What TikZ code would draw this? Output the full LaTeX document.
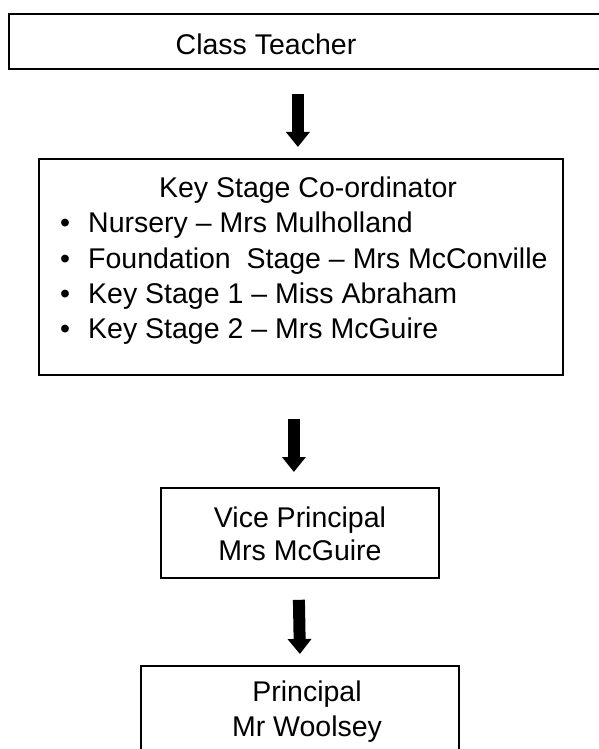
\documentclass[tikz,border=0pt]{standalone}
\usepackage{fontspec}
\setmainfont{Liberation Sans}
\usetikzlibrary{arrows.meta}
\begin{document}
\begin{tikzpicture}[x=1pt,y=-1pt,
  box/.style={draw, line width=1.8pt, rectangle, inner sep=0pt, align=center,
    font=\fontsize{28.5}{33}\selectfont},
  lbl/.style={font=\fontsize{28.5}{33}\selectfont, align=center, inner sep=0pt},
  listtxt/.style={font=\fontsize{28.5}{33}\selectfont, inner sep=0pt, anchor=base west},
  flow/.style={line width=12pt, -{Triangle[width=23pt,length=15pt]}}]
\useasboundingbox (0,0) rectangle (599,749);
\clip (0,0) rectangle (599,749);
% boxes
\node[box, line width=2pt, minimum width=640pt, minimum height=55pt, anchor=north west] (ctbox) at (8,13) {};
\node[lbl, anchor=base] (cttext) at (266,55) {Class Teacher};
\node[box, minimum width=524pt, minimum height=216pt, anchor=north west] (kbox) at (38,158) {};
\node[lbl, anchor=base] (ktitle) at (308,197) {Key Stage Co-ordinator};
\node[listtxt] (l1) at (60,232) {\makebox[28pt][l]{•}Nursery – Mrs Mulholland};
\node[listtxt] (l2) at (60,268) {\makebox[28pt][l]{•}Foundation\ \ Stage – Mrs McConville};
\node[listtxt] (l3) at (60,303) {\makebox[28pt][l]{•}Key Stage 1 – Miss Abraham};
\node[listtxt] (l4) at (60,338) {\makebox[28pt][l]{•}Key Stage 2 – Mrs McGuire};
\node[box, minimum width=278pt, minimum height=90pt, anchor=north west] (vbox) at (160,487) {};
\node[lbl, anchor=base] (v1) at (300,527) {Vice Principal};
\node[lbl, anchor=base] (v2) at (300,560) {Mrs McGuire};
\node[box, minimum width=318pt, minimum height=120pt, anchor=north west] (pbox) at (140,665) {};
\node[lbl, anchor=base] (p1) at (307,701) {Principal};
\node[lbl, anchor=base] (p2) at (307,736) {Mr Woolsey};
% arrows
\draw[flow] ([yshift=-24pt,xshift=-3pt]ctbox.south -| kbox.north) -- ([yshift=11pt,xshift=-3pt]kbox.north);
\draw[flow] ([yshift=-43pt,xshift=-7pt]kbox.south) -- ([yshift=15pt,xshift=-6pt]vbox.north);
\draw[flow] ([yshift=-21pt,xshift=-1pt]vbox.south -| vbox.north) -- ([yshift=11pt,xshift=0pt]pbox.north);
\end{tikzpicture}
\end{document}
